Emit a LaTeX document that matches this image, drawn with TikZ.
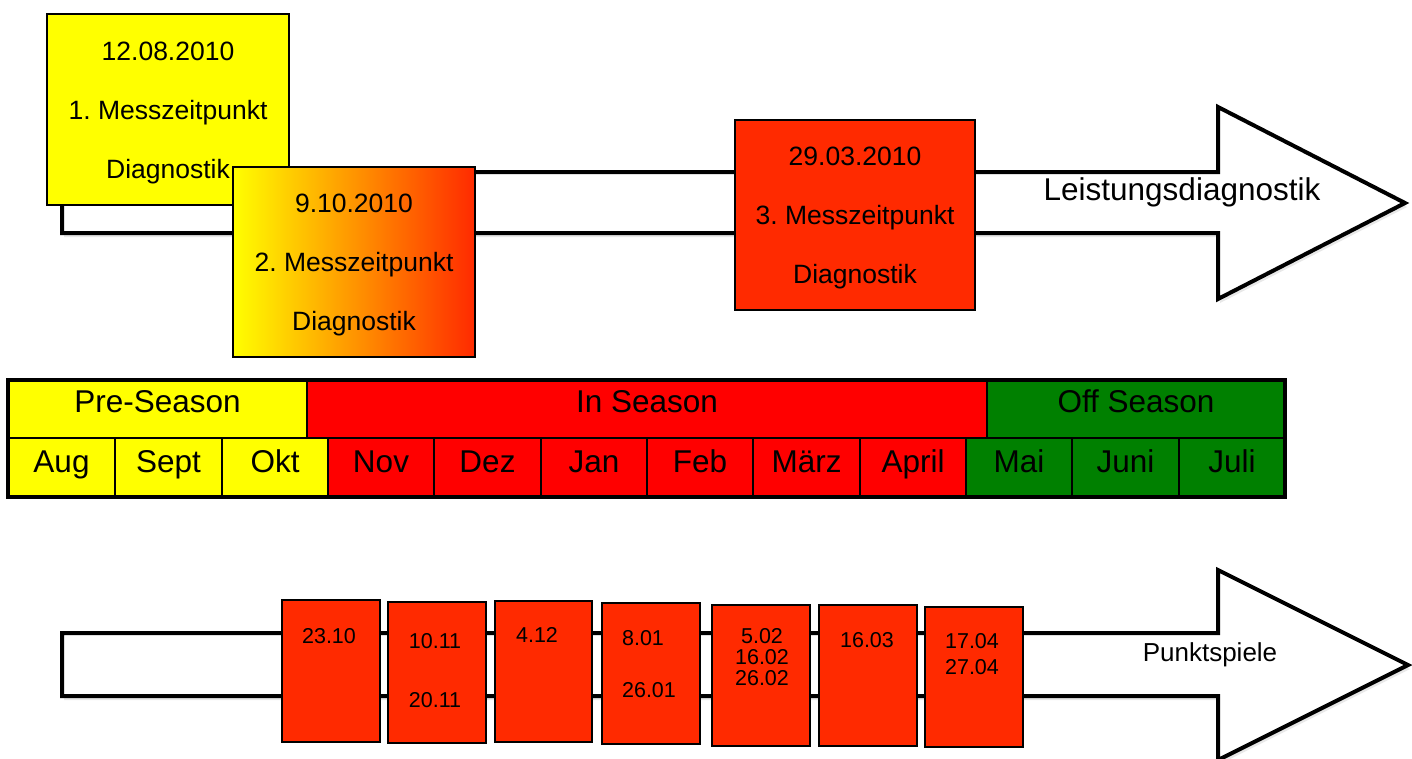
\documentclass[tikz,border=0pt]{standalone}
\usepackage{fontspec}
\setmainfont{Liberation Sans}
\usetikzlibrary{shadows}
\definecolor{boxred}{HTML}{FF2A00}
\definecolor{seasred}{HTML}{FF0000}
\definecolor{seasgreen}{HTML}{008000}
\definecolor{seasyellow}{HTML}{FFFF00}
\begin{document}
\frenchspacing
\begin{tikzpicture}[x=1pt,y=-1pt,
  bigarrow/.style={draw=black, line width=4pt, fill=white,
    drop shadow={opacity=0.18, shadow xshift=2pt, shadow yshift=-4pt, fill=gray}},
  mbox/.style={draw=black, line width=2pt, rectangle, inner sep=0pt,
    font=\fontsize{26.5}{59}\selectfont, align=center},
  gbox/.style={draw=black, line width=2pt, rectangle, inner sep=0pt, fill=boxred},
  glabel/.style={font=\fontsize{21.5}{21}\selectfont, inner sep=0pt},
  cell/.style={draw=black, line width=2.5pt, rectangle, inner sep=0pt},
  clabel/.style={font=\fontsize{31.5}{30}\selectfont, inner sep=0pt, anchor=base},
  arrlabel/.style={inner sep=0pt}
]
\useasboundingbox (0,0) rectangle (1412,758);

% ---------- top arrow ----------
\path[bigarrow] (62,172) -- (1218,172) -- (1218,107) -- (1405,203) -- (1218,299) -- (1218,233) -- (62,233) -- cycle;
\node[arrlabel, font=\fontsize{31.5}{30}\selectfont] (leist) at (1182,192) {Leistungsdiagnostik};

% ---------- measurement boxes ----------
\node[mbox, fill=seasyellow, minimum width=242pt, minimum height=191pt] (m1) at (168,109.5) {};
\node[mbox, minimum width=0pt, minimum height=0pt, draw=none] (m1t) at (168,112.5)
  {12.08.2010\\1. Messzeitpunkt\\Diagnostik};
\node[mbox, left color=seasyellow, right color=boxred, minimum width=242pt, minimum height=190pt] (m2) at (354,262) {};
\node[mbox, minimum width=0pt, minimum height=0pt, draw=none] (m2t) at (354,264.5)
  {9.10.2010\\2. Messzeitpunkt\\Diagnostik};
\node[mbox, fill=boxred, minimum width=240pt, minimum height=190pt] (m3) at (855,215) {};
\node[mbox, minimum width=0pt, minimum height=0pt, draw=none] (m3t) at (855,217.5)
  {29.03.2010\\3. Messzeitpunkt\\Diagnostik};

% ---------- season bar ----------
\node[cell, fill=seasyellow, minimum width=299pt, minimum height=58pt] (pre) at (157.5,409) {};
\node[cell, fill=seasred, minimum width=680pt, minimum height=58pt] (in) at (647,409) {};
\node[cell, fill=seasgreen, minimum width=298pt, minimum height=58pt] (off) at (1136,409) {};
\node[clabel] (pret) at (157.5,412) {Pre-Season};
\node[clabel] (int) at (647,412) {In Season};
\node[clabel] (offt) at (1136,412) {Off Season};

\foreach \a/\b/\n/\c/\t in {8/115/aug/seasyellow/Aug, 115/222/sep/seasyellow/Sept, 222/328/okt/seasyellow/Okt,
  328/434/nov/seasred/Nov, 434/541/dez/seasred/Dez, 541/647/jan/seasred/Jan, 647/753/feb/seasred/Feb,
  753/860/mar/seasred/März, 860/966/apr/seasred/April,
  966/1072/mai/seasgreen/Mai, 1072/1179/jun/seasgreen/Juni, 1179/1285/jul/seasgreen/Juli} {
  \node[cell, fill=\c, minimum width={(\b-\a)*1pt}, minimum height=59pt] (\n) at ({(\a+\b)/2},467.5) {};
  \node[clabel] (\n t) at ({(\a+\b)/2},472) {\t};
}
\draw[line width=4pt] (8,380) rectangle (1285,497);

% ---------- bottom arrow ----------
\path[bigarrow] (62,633) -- (1218,633) -- (1218,570) -- (1408,665) -- (1218,760) -- (1218,696) -- (62,696) -- cycle;
\node[arrlabel, font=\fontsize{26}{26}\selectfont] (punkt) at (1210,655) {Punktspiele};

% ---------- match boxes ----------
\node[gbox, minimum width=98pt, minimum height=142pt] (g1) at (331,671) {};
\node[glabel] (g1a) at (329,636) {23.10};
\node[gbox, minimum width=98pt, minimum height=141pt] (g2) at (437,672.5) {};
\node[glabel] (g2a) at (435,641) {10.11};
\node[glabel] (g2b) at (435,700) {20.11};
\node[gbox, minimum width=97pt, minimum height=141pt] (g3) at (543.5,671.5) {};
\node[glabel] (g3a) at (537,635) {4.12};
\node[gbox, minimum width=98pt, minimum height=141pt] (g4) at (651,673.5) {};
\node[glabel] (g4a) at (643,638) {8.01};
\node[glabel] (g4b) at (649,690) {26.01};
\node[gbox, minimum width=98pt, minimum height=141pt] (g5) at (761,675.5) {};
\node[glabel, align=center, font=\fontsize{21.5}{21}\selectfont] (g5a) at (762,657) {5.02\\16.02\\26.02};
\node[gbox, minimum width=98pt, minimum height=141pt] (g6) at (868,675.5) {};
\node[glabel] (g6a) at (867,640) {16.03};
\node[gbox, minimum width=98pt, minimum height=140pt] (g7) at (974,677) {};
\node[glabel] (g7a) at (972,641) {17.04};
\node[glabel] (g7b) at (972,667) {27.04};
\end{tikzpicture}
\end{document}
